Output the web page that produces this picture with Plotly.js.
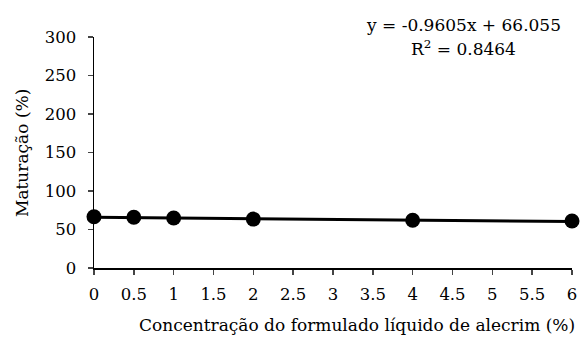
<!DOCTYPE html>
<html><head><meta charset="utf-8">
<script src="https://cdn.plot.ly/plotly-3.0.1.min.js"></script>
<style>html,body{margin:0;padding:0;background:#fff}#c{width:580px;height:338px}</style>
</head><body><div id="c"></div>
<script>
const concentracao = [0, 0.5, 1, 2, 4, 6];
const maturacao = [66.5, 66, 65, 63.5, 62, 61];
const trendX = [0, 6];
const trendY = [66.055, 60.292];
const xTicks = [0, 0.5, 1, 1.5, 2, 2.5, 3, 3.5, 4, 4.5, 5, 5.5, 6];
const yTicks = [0, 50, 100, 150, 200, 250, 300];
const font = "DejaVu Serif, Liberation Serif, serif";
const L = 94, R = 572, T = 37, B = 268;
const px = v => (v - L) / (R - L), py = v => (B - v) / (B - T);
Plotly.newPlot('c', [
  {x: trendX, y: trendY, mode: 'lines', line: {color: '#000', width: 3}, hoverinfo: 'skip', cliponaxis: false},
  {x: concentracao, y: maturacao, mode: 'markers', marker: {color: '#000', size: 15}, cliponaxis: false}
], {
  width: 580, height: 338,
  margin: {l: L, r: 580 - R, t: T, b: 338 - B},
  showlegend: false,
  paper_bgcolor: '#fff', plot_bgcolor: '#fff',
  font: {family: font, size: 17, color: '#000'},
  xaxis: {range: [0, 6], tickvals: xTicks, ticktext: xTicks.map(String), ticks: 'outside', ticklen: 5, tickwidth: 1.5,
    ticklabelstandoff: 6, tickfont: {size: 16.5},
    showline: true, linecolor: '#000', linewidth: 1.5, showgrid: false, zeroline: false},
  yaxis: {range: [0, 300], tickvals: yTicks, ticks: 'outside', ticklen: 5, tickwidth: 1.5,
    ticklabelstandoff: 8, tickfont: {size: 16.5},
    showline: true, linecolor: '#000', linewidth: 1.5, showgrid: false, zeroline: false},
  annotations: [
    {text: 'y = -0.9605x + 66.055', x: px(463), y: py(25)},
    {text: 'R<sup>2</sup> = 0.8464', x: px(463), y: py(48)},
    {text: 'Concentração do formulado líquido de alecrim (%)', x: px(357), y: py(325)},
    {text: 'Maturação (%)', x: px(22), y: py(153), textangle: -90}
  ].map(a => Object.assign({xref: 'paper', yref: 'paper', showarrow: false, xanchor: 'center', yanchor: 'middle'}, a))
}, {staticPlot: true});
</script></body></html>
